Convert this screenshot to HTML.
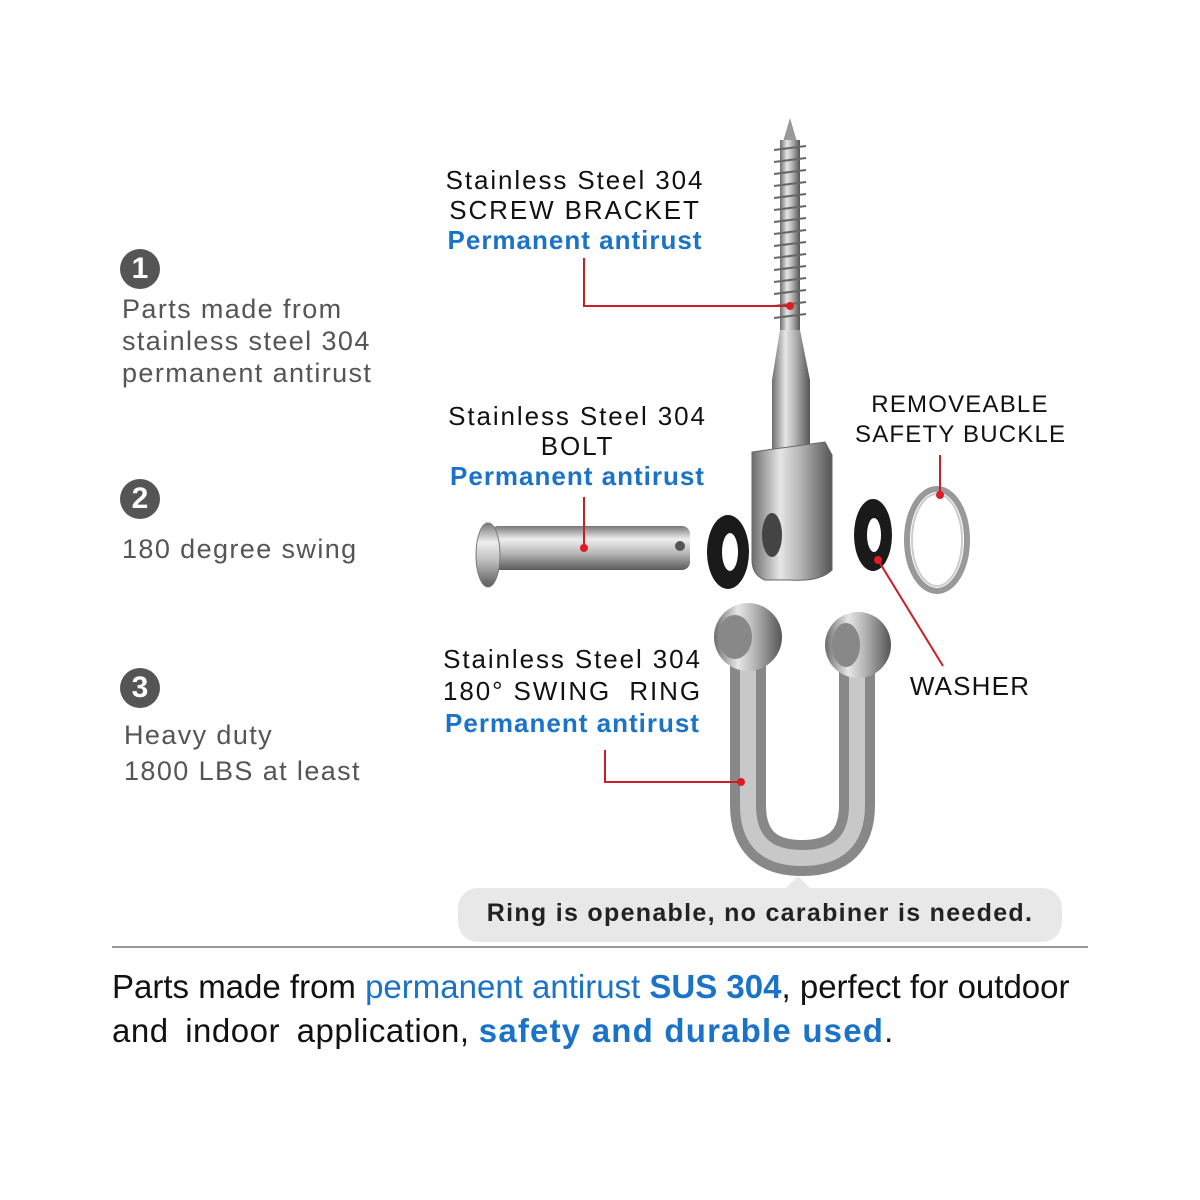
<!DOCTYPE html>
<html><head><meta charset="utf-8"><style>
body{margin:0;background:#fff;}
#c{position:relative;width:1200px;height:1200px;overflow:hidden;font-family:"Liberation Sans",Arial,sans-serif;}
.t{position:absolute;white-space:nowrap;}
.l{font-size:27px;color:#555;letter-spacing:1.4px;line-height:32px;}
.r{font-size:26px;color:#111;letter-spacing:1.9px;line-height:30px;text-align:center;}
.b{color:#1a73c8;font-weight:bold;letter-spacing:1px;}
.n{position:absolute;width:40px;height:40px;border-radius:50%;background:#555;color:#fff;font-weight:bold;font-size:30px;text-align:center;line-height:40px;}
</style></head><body><div id="c">
<svg width="1200" height="1200" style="position:absolute;left:0;top:0">
<defs>
<linearGradient id="mv" x1="0" x2="1" y1="0" y2="0"><stop offset="0" stop-color="#6d6d6d"/><stop offset=".35" stop-color="#e6e6e6"/><stop offset=".6" stop-color="#b5b5b5"/><stop offset="1" stop-color="#555"/></linearGradient>
<linearGradient id="mh" x1="0" x2="0" y1="0" y2="1"><stop offset="0" stop-color="#777"/><stop offset=".3" stop-color="#eee"/><stop offset=".6" stop-color="#bbb"/><stop offset="1" stop-color="#5a5a5a"/></linearGradient>
</defs>
<polygon points="790,118 782,145 798,145" fill="#999"/>
<rect x="780" y="140" width="20" height="190" fill="url(#mv)"/>
<g stroke="#666" stroke-width="2">
<line x1="774" y1="150" x2="806" y2="146"/><line x1="774" y1="162" x2="806" y2="158"/><line x1="774" y1="174" x2="806" y2="170"/><line x1="774" y1="186" x2="806" y2="182"/><line x1="774" y1="198" x2="806" y2="194"/><line x1="774" y1="210" x2="806" y2="206"/><line x1="774" y1="222" x2="806" y2="218"/><line x1="774" y1="234" x2="806" y2="230"/><line x1="774" y1="246" x2="806" y2="242"/><line x1="774" y1="258" x2="806" y2="254"/><line x1="774" y1="270" x2="806" y2="266"/><line x1="774" y1="282" x2="806" y2="278"/><line x1="774" y1="294" x2="806" y2="290"/><line x1="774" y1="306" x2="806" y2="302"/><line x1="774" y1="318" x2="806" y2="314"/>
</g>
<path d="M780,330 L772,380 L772,450 L810,450 L810,380 L800,330Z" fill="url(#mv)"/>
<path d="M752,452 L825,442 L832,455 L832,570 Q820,582 790,580 L765,580 Q752,575 752,560Z" fill="url(#mv)" stroke="#666" stroke-width="1"/>
<ellipse cx="772" cy="535" rx="10" ry="22" fill="#444"/>
<rect x="490" y="526" width="200" height="44" rx="8" fill="url(#mh)"/>
<ellipse cx="488" cy="555" rx="12" ry="32" fill="url(#mh)" stroke="#777"/>
<circle cx="680" cy="546" r="5" fill="#555"/>
<ellipse cx="728" cy="552" rx="21" ry="37" fill="#1a1a1a"/><ellipse cx="730" cy="552" rx="8" ry="19" fill="#fff"/>
<ellipse cx="873" cy="535" rx="19" ry="36" fill="#1a1a1a"/><ellipse cx="874" cy="535" rx="7" ry="17" fill="#fff"/>
<ellipse cx="937" cy="540" rx="30" ry="51" fill="none" stroke="#999" stroke-width="6"/>
<ellipse cx="937" cy="540" rx="25" ry="46" fill="none" stroke="#ccc" stroke-width="2"/>
<path d="M748,660 L748,805 Q748,858 802,858 Q857,858 857,805 L857,665" fill="none" stroke="#888" stroke-width="36"/>
<path d="M748,660 L748,805 Q748,858 802,858 Q857,858 857,805 L857,665" fill="none" stroke="#c8c8c8" stroke-width="16"/>
<circle cx="748" cy="637" r="34" fill="url(#mv)"/><ellipse cx="735" cy="637" rx="17" ry="22" fill="#888"/>
<circle cx="858" cy="645" r="33" fill="url(#mv)"/><ellipse cx="846" cy="645" rx="14" ry="22" fill="#888"/>
<g stroke="#c8202a" stroke-width="2" fill="none">
<polyline points="584,258 584,306 790,306"/>
<line x1="584" y1="497" x2="584" y2="548"/>
<line x1="940" y1="455" x2="940" y2="495"/>
<line x1="878" y1="560" x2="943" y2="666"/>
<polyline points="605,750 605,782 741,782"/>
</g>
<g fill="#e01b24"><circle cx="790" cy="306" r="4"/><circle cx="584" cy="548" r="4"/><circle cx="940" cy="495" r="4"/><circle cx="878" cy="560" r="4"/><circle cx="741" cy="782" r="4"/></g>
<rect x="458" y="888" width="604" height="54" rx="20" fill="#e8e8e8"/>
<polygon points="786,888 798,876 810,888" fill="#e8e8e8"/>
<line x1="112" y1="947" x2="1088" y2="947" stroke="#999" stroke-width="2"/>
</svg>

<div class="n" style="left:120px;top:249px">1</div>
<div class="t l" style="left:122px;top:293px">Parts made from<br>stainless steel 304<br>permanent antirust</div>
<div class="n" style="left:120px;top:479px">2</div>
<div class="t l" style="left:122px;top:533px">180 degree swing</div>
<div class="n" style="left:120px;top:668px">3</div>
<div class="t l" style="left:124px;top:717px;line-height:36px">Heavy duty<br>1800 LBS at least</div>

<div class="t r" style="left:435px;width:280px;top:165px">Stainless Steel 304<br>SCREW BRACKET<br><span class="b">Permanent antirust</span></div>
<div class="t r" style="left:440px;width:275px;top:401px">Stainless Steel 304<br>BOLT<br><span class="b">Permanent antirust</span></div>
<div class="t r" style="left:430px;width:285px;top:643px;line-height:32px">Stainless Steel 304<br>180° SWING&nbsp; RING<br><span class="b">Permanent antirust</span></div>
<div class="t r" style="left:855px;width:210px;top:390px;font-size:24px;line-height:30px;letter-spacing:1.2px">REMOVEABLE<br>SAFETY BUCKLE</div>
<div class="t r" style="left:900px;width:140px;top:671px;font-size:26px;letter-spacing:1.2px">WASHER</div>

<div class="t" style="left:458px;width:604px;top:899px;text-align:center;font-size:25px;font-weight:bold;color:#222;letter-spacing:1.3px">Ring is openable, no carabiner is needed.</div>
<div class="t" style="left:112px;top:965px;font-size:33px;line-height:44px;color:#111">Parts made from <span style="color:#1a73c8">permanent antirust</span> <span style="color:#1a73c8;font-weight:bold">SUS 304</span>, perfect for outdoor<br><span style="letter-spacing:0.5px;word-spacing:7px">and indoor application,</span> <span style="color:#1a73c8;font-weight:bold;letter-spacing:1.2px">safety and durable used</span>.</div>
</div></body></html>
